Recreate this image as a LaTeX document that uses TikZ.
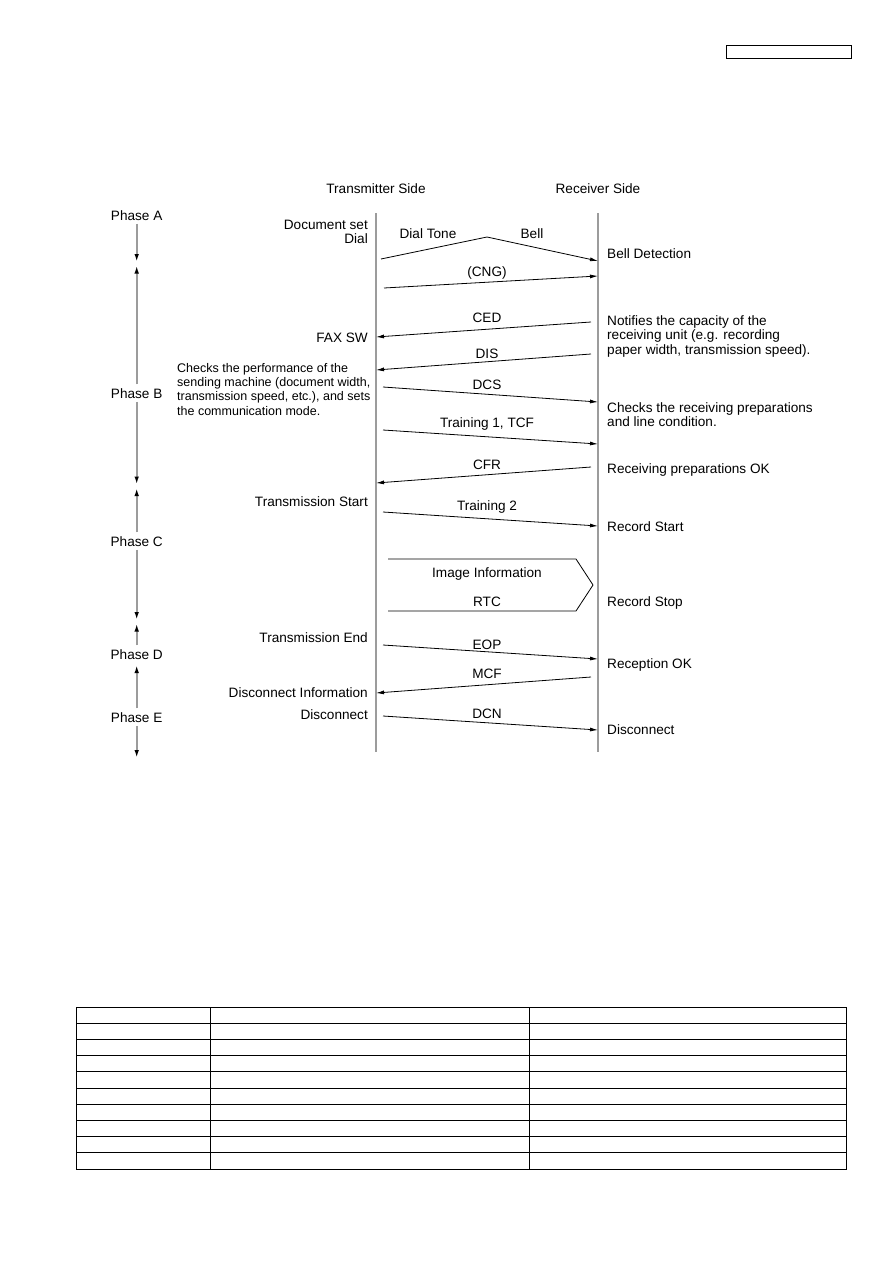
\documentclass[tikz,border=0pt]{standalone}
\usepackage{fontspec}
\setmainfont{Liberation Sans}
\usetikzlibrary{arrows.meta}
\definecolor{lifegray}{HTML}{9C9C9C}
\begin{document}
\begin{tikzpicture}[x=1pt,y=-1pt,
  lbl/.style={inner sep=0pt,font=\fontsize{13.6}{14.3}\selectfont},
  lblnarrow/.style={inner sep=0pt,font=\fontsize{12.5}{14.3}\selectfont},
  phase/.style={inner xsep=0pt,inner ysep=3.5pt,font=\fontsize{13.6}{14.3}\selectfont,anchor=base},
  life/.style={draw=lifegray,line width=1.6pt},
  msg/.style={draw=black,line width=0.8pt,-{Latex[length=8pt,width=4pt]}},
  msgnt/.style={draw=black,line width=0.8pt},
  ph/.style={draw=lifegray,line width=1.6pt,-{Latex[length=8pt,width=4.5pt,color=black]}},
  grid/.style={draw=black,line width=1pt}]
\useasboundingbox (0,0) rectangle (893,1263);

% top-right box
\draw[grid] (726,46) rectangle (851,59);

% headers
\node[lbl,anchor=base] (hT) at (376,193) {Transmitter Side};
\node[lbl,anchor=base] (hR) at (598,193) {Receiver Side};

% lifelines
\coordinate (Ttop) at (376,213);
\coordinate (Tbot) at (376,752);
\coordinate (Rtop) at (598,213);
\coordinate (Rbot) at (598,752);
\draw[life] (Ttop) -- (Tbot);
\draw[life] (Rtop) -- (Rbot);

% phases
\node[phase] (pA) at (136.7,220) {Phase A};
\node[phase] (pB) at (136.7,398) {Phase B};
\node[phase] (pC) at (136.7,546) {Phase C};
\node[phase] (pD) at (136.7,659) {Phase D};
\node[phase] (pE) at (136.7,722) {Phase E};
\coordinate (bA1) at (136.7,262);
\coordinate (bA2) at (136.7,265.5);
\coordinate (bB1) at (136.7,484.5);
\coordinate (bB2) at (136.7,488);
\coordinate (bC1) at (136.7,620);
\coordinate (bC2) at (136.7,623.5);
\coordinate (bD) at (136.7,665);
\coordinate (bE) at (136.7,758);
\draw[ph] (pA.south) -- (bA1);
\draw[ph] (pB.north) -- (bA2);
\draw[ph] (pB.south) -- (bB1);
\draw[ph] (pC.north) -- (bB2);
\draw[ph] (pC.south) -- (bC1);
\draw[ph] (pD.north) -- (bC2);
\draw[ph] (pE.north) -- (bD);
\draw[ph] (pE.south) -- (bE);

% transmitter-side texts
\node[lbl,anchor=north east,align=right] (tDoc) at (368,219.5) {Document set\\Dial};
\node[lbl,anchor=base east] (tFax) at (368,342) {FAX SW};
\node[lblnarrow,anchor=north west,align=left] (tChk) at (177,363) {Checks the performance of the\\sending machine (document width,\\transmission speed, etc.), and sets\\the communication mode.};
\node[lbl,anchor=base east] (tTS) at (368,506) {Transmission Start};
\node[lbl,anchor=base east] (tTE) at (368,642) {Transmission End};
\node[lbl,anchor=base east] (tDI) at (368,697) {Disconnect Information};
\node[lbl,anchor=base east] (tDC) at (368,719) {Disconnect};

% receiver-side texts
\node[lbl,anchor=base west] (rBell) at (607,258) {Bell Detection};
\node[lbl,anchor=north west,align=left] (rNot) at (607,315.5) {Notifies the capacity of the\\receiving unit (e.g. recording\\paper width, transmission speed).};
\node[lbl,anchor=north west,align=left] (rChk) at (607,402.5) {Checks the receiving preparations\\and line condition.};
\node[lbl,anchor=base west] (rRP) at (607,473) {Receiving preparations OK};
\node[lbl,anchor=base west] (rRS) at (607,531) {Record Start};
\node[lbl,anchor=base west] (rRSt) at (607,606) {Record Stop};
\node[lbl,anchor=base west] (rRO) at (607,668) {Reception OK};
\node[lbl,anchor=base west] (rDC) at (607,734) {Disconnect};

% messages
\coordinate (m1a) at (381,259);
\coordinate (m1b) at (487,237);
\coordinate (m1c) at (598,261);
\draw[msg] (m1a) -- (m1b) -- (m1c);
\node[lbl,anchor=base] (lDT) at (428,238) {Dial Tone};
\node[lbl,anchor=base] (lBell) at (532,238) {Bell};

\coordinate (m2a) at (384,288);
\coordinate (m2b) at (598,276);
\draw[msg] (m2a) -- (m2b);
\node[lbl,anchor=base] (lCNG) at (487,276) {(CNG)};

\coordinate (m3a) at (591,322);
\coordinate (m3b) at (376,337);
\draw[msg] (m3a) -- (m3b);
\node[lbl,anchor=base] (lCED) at (487,322) {CED};

\coordinate (m4a) at (591,354);
\coordinate (m4b) at (376,370);
\draw[msg] (m4a) -- (m4b);
\node[lbl,anchor=base] (lDIS) at (487,358) {DIS};

\coordinate (m5a) at (383,387);
\coordinate (m5b) at (598,402);
\draw[msg] (m5a) -- (m5b);
\node[lbl,anchor=base] (lDCS) at (487,389) {DCS};

\coordinate (m6a) at (383,430);
\coordinate (m6b) at (598,444);
\draw[msg] (m6a) -- (m6b);
\node[lbl,anchor=base] (lTR1) at (487,427) {Training 1, TCF};

\coordinate (m7a) at (591,467);
\coordinate (m7b) at (376,483);
\draw[msg] (m7a) -- (m7b);
\node[lbl,anchor=base] (lCFR) at (487,469) {CFR};

\coordinate (m8a) at (383,512);
\coordinate (m8b) at (598,526);
\draw[msg] (m8a) -- (m8b);
\node[lbl,anchor=base] (lTR2) at (487,510) {Training 2};

% image information block
\coordinate (i1) at (388,559);
\coordinate (i2) at (576,559);
\coordinate (i3) at (593,585);
\coordinate (i4) at (576,611);
\coordinate (i5) at (388,611);
\draw[msgnt] (i1) -- (i2) -- (i3) -- (i4) -- (i5);
\node[lbl,anchor=base] (lII) at (487,577) {Image Information};
\node[lbl,anchor=base] (lRTC) at (487,606) {RTC};

\coordinate (m9a) at (383,645);
\coordinate (m9b) at (598,659);
\draw[msg] (m9a) -- (m9b);
\node[lbl,anchor=base] (lEOP) at (487,649) {EOP};

\coordinate (m10a) at (591,677);
\coordinate (m10b) at (376,693);
\draw[msg] (m10a) -- (m10b);
\node[lbl,anchor=base] (lMCF) at (487,678) {MCF};

\coordinate (m11a) at (383,716);
\coordinate (m11b) at (598,730);
\draw[msg] (m11a) -- (m11b);
\node[lbl,anchor=base] (lDCN) at (487,718) {DCN};

% empty table
\draw[grid] (76.5,1007.3) rectangle (846,1169);
\foreach \i in {1,...,9} {
  \draw[grid] (76.5,{1007.3+16.17*\i}) -- (846,{1007.3+16.17*\i});
}
\draw[grid] (210,1007.3) -- (210,1169);
\draw[grid] (529.4,1007.3) -- (529.4,1169);
\end{tikzpicture}
\end{document}
